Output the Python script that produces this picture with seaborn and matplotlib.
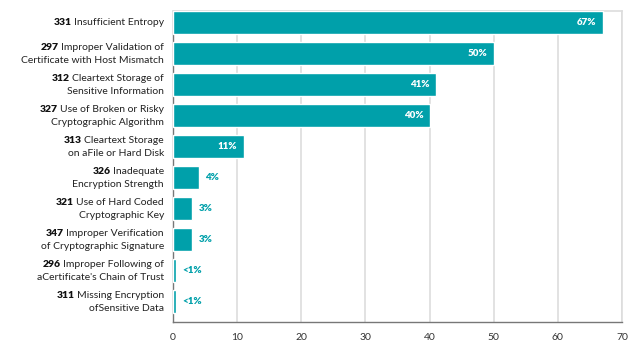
import matplotlib
matplotlib.use("Agg")
import matplotlib.pyplot as plt
import seaborn as sns
import pandas as pd

codes = ["331", "297", "312", "327", "313", "326", "321", "347", "296", "311"]
names = [
    ["Insufficient Entropy"],
    ["Improper Validation of", "Certificate with Host Mismatch"],
    ["Cleartext Storage of", "Sensitive Information"],
    ["Use of Broken or Risky", "Cryptographic Algorithm"],
    ["Cleartext Storage", "on aFile or Hard Disk"],
    ["Inadequate", "Encryption Strength"],
    ["Use of Hard Coded", "Cryptographic Key"],
    ["Improper Verification", "of Cryptographic Signature"],
    ["Improper Following of", "aCertificate's Chain of Trust"],
    ["Missing Encryption", "ofSensitive Data"],
]
values = [67, 50, 41, 40, 11, 4, 3, 3, 0.5, 0.5]
value_labels = ["67%", "50%", "41%", "40%", "11%", "4%", "3%", "3%", "<1%", "<1%"]
xticks = [0, 10, 20, 30, 40, 50, 60, 70]

TEAL = "#00A0AA"

sns.set_theme(style="white")
plt.rcParams["font.family"] = ["Lato", "DejaVu Sans"]

df = pd.DataFrame({"cat": codes, "val": values})

fig = plt.figure(figsize=(6.4, 3.43), dpi=100)
ax = fig.add_axes([173 / 640, 1 - 322 / 343, (622 - 173) / 640, (322 - 11) / 343])

sns.barplot(data=df, x="val", y="cat", orient="h", color=TEAL, saturation=1,
            width=0.74, ax=ax, zorder=3)

ax.set_xlim(0, 70)
ax.set_ylim(9.65, -0.37)
ax.set_xticks(xticks)
ax.set_xticklabels([str(t) for t in xticks], fontsize=7.5, color="#333333")
ax.set_yticks([])
ax.set_xlabel("")
ax.set_ylabel("")
ax.grid(axis="x", color="#dddddd", linewidth=1.2, zorder=0)
ax.set_axisbelow(True)
for s in ["top", "right"]:
    ax.spines[s].set_color("#dddddd")
    ax.spines[s].set_linewidth(1.2)
ax.spines["left"].set_color("#777777")
ax.spines["bottom"].set_color("#777777")
ax.spines["left"].set_linewidth(1.0)
ax.spines["bottom"].set_linewidth(1.0)
ax.tick_params(axis="x", direction="out", length=4, width=1, color="#777777", pad=4)

# value labels
for i, (v, lab) in enumerate(zip(values, value_labels)):
    if v >= 10:
        ax.annotate(lab, (v, i), xytext=(-4.5, 0), textcoords="offset points",
                    ha="right", va="center", color="white", fontsize=7,
                    fontweight="heavy")
    else:
        ax.annotate(lab, (v, i), xytext=(4.5, 0), textcoords="offset points",
                    ha="left", va="center", color=TEAL,
                    fontsize=7, fontweight="heavy")

# category labels: bold code + regular text, right aligned
fig.canvas.draw()
renderer = fig.canvas.get_renderer()
x_right = 164 / 640
ax_trans = ax.transData
for i, (code, lines) in enumerate(zip(codes, names)):
    _, yc = ax_trans.transform((0, i))
    yfig = yc / fig.bbox.height
    n = len(lines)
    offs = [0] if n == 1 else [6.5, -6.5]
    for j, line in enumerate(lines):
        yy = yfig + offs[j] / 343
        t = fig.text(x_right, yy, line, ha="right", va="center",
                     fontsize=7.5, color="#222222")
        if j == 0:
            bb = t.get_window_extent(renderer)
            fig.text((bb.x0 - 2.5) / 640, yy, code, ha="right", va="center",
                     fontsize=7.5, fontweight="heavy", color="#111111")

fig.savefig("out.png", dpi=100)
